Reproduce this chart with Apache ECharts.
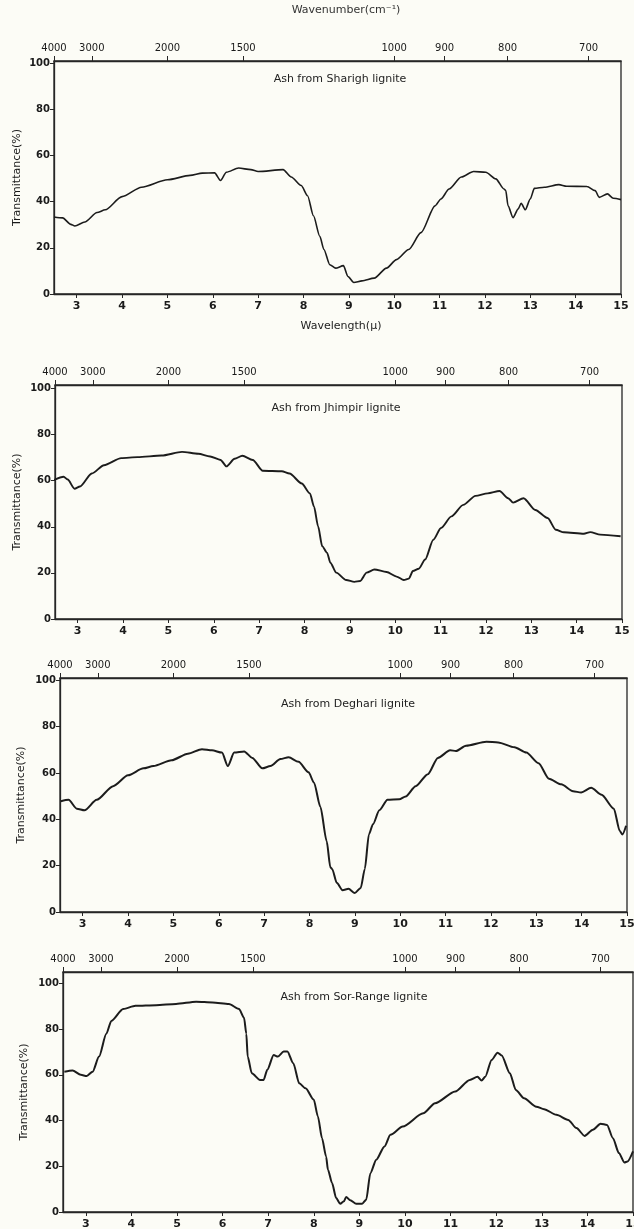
<!DOCTYPE html>
<html>
<head>
<meta charset="utf-8">
<script src="https://cdn.jsdelivr.net/npm/echarts@6/dist/echarts.min.js"></script>
<style>
html,body{margin:0;padding:0;background:#fcfcf6;}
#chart{width:634px;height:1229px;}
</style>
</head>
<body>
<div id="chart"></div>
<script>
// ---- data (wavelength in micrometres, transmittance in %) ----
const wavelengthTicks = [3,4,5,6,7,8,9,10,11,12,13,14,15];
const wavenumberTicks = [4000,3000,2000,1500,1000,900,800,700];
const yTicks = [0,20,40,60,80,100];
const panelTitles = ["Ash from Sharigh lignite","Ash from Jhimpir lignite","Ash from Deghari lignite","Ash from Sor-Range lignite"];

const sharighX = [2.5,2.69,2.87,2.96,3.18,3.45,3.63,4.0,4.43,5.0,5.5,5.77,6.04,6.17,6.3,6.57,6.84,7.0,7.55,7.73,7.95,8.09,8.22,8.36,8.45,8.58,8.71,8.88,8.98,9.11,9.29,9.56,9.83,10.05,10.32,10.59,10.9,11.03,11.21,11.48,11.75,12.02,12.24,12.42,12.46,12.51,12.62,12.73,12.8,12.89,13.0,13.09,13.31,13.63,13.8,14.25,14.43,14.52,14.7,14.83,15.0];
const sharighT = [33.4,33,30.2,29.5,31.2,35.3,36.5,42.2,46.3,49.5,51.4,52.4,52.5,49.2,52.8,54.6,53.9,53.1,53.9,50.7,47,42.6,33.9,25,19.3,12.7,11.2,12.3,7.6,5,5.7,6.9,11.2,14.9,19.3,26.6,38.2,41.2,45.5,50.7,53.1,52.8,49.9,45.5,44.8,38.2,33.1,36.8,39.3,36.5,41.2,45.8,46.3,47.4,46.7,46.6,44.8,41.9,43.4,41.5,40.9];

const jhimpirX = [2.48,2.69,2.78,2.93,3.05,3.31,3.58,3.96,4.32,4.85,5.3,5.66,5.92,6.15,6.28,6.46,6.63,6.86,7.08,7.5,7.67,7.94,8.12,8.21,8.3,8.39,8.5,8.57,8.7,8.92,9.1,9.23,9.37,9.54,9.81,10.03,10.19,10.3,10.39,10.52,10.66,10.84,11.01,11.24,11.5,11.77,12.04,12.3,12.49,12.6,12.83,13.09,13.36,13.54,13.72,14.16,14.3,14.52,14.97];
const jhimpirT = [60.3,61.7,60.5,56.5,57.5,63.1,66.7,69.8,70.2,70.9,72.5,71.7,70.5,69,66.2,69.5,70.8,69,64.3,64.1,63.1,58.8,54.5,48.8,40.2,31.6,28.7,24.4,20.1,16.9,16.1,16.5,20.1,21.5,20.4,18.4,16.9,17.5,20.8,21.8,25.8,34.4,39.5,44.5,49.5,53.4,54.5,55.5,52.4,50.5,52.4,47.3,43.8,38.7,37.6,37,37.7,36.6,35.9];

const deghariX = [2.52,2.69,2.87,3.04,3.31,3.67,4.0,4.34,4.56,4.96,5.32,5.63,5.85,6.07,6.2,6.34,6.56,6.74,6.96,7.14,7.36,7.54,7.76,7.98,8.1,8.24,8.38,8.46,8.5,8.6,8.73,8.86,9.0,9.13,9.22,9.31,9.4,9.54,9.72,9.98,10.12,10.34,10.61,10.83,11.1,11.23,11.45,11.9,12.16,12.52,12.78,13.05,13.28,13.55,13.81,13.99,14.21,14.44,14.71,14.84,14.9,14.98];
const deghariT = [47.8,48.4,44.6,43.9,48.4,54.3,59,62,63,65.5,68.3,70.3,69.8,68.8,63,68.8,69.3,66.5,62,63,66,66.8,64.8,60.3,55.8,45.4,30.5,19.3,18.6,12.6,9.4,10,8.2,10.4,18.6,33.5,37.9,43.9,48.4,48.7,49.9,54.3,59.5,66.5,69.8,69.5,71.8,73.5,73.2,71.1,68.8,64.2,57.5,55.1,52.1,51.6,53.6,50.6,44.6,35,33.5,37.2];

const sorRangeX = [2.53,2.71,2.89,3.02,3.15,3.29,3.45,3.56,3.82,4.09,4.54,4.98,5.42,5.78,6.14,6.36,6.47,6.52,6.55,6.64,6.82,6.9,6.98,7.12,7.21,7.34,7.42,7.55,7.68,7.82,8.0,8.09,8.18,8.27,8.31,8.4,8.49,8.58,8.66,8.71,8.8,8.93,9.06,9.15,9.24,9.37,9.55,9.68,9.95,10.4,10.66,11.1,11.42,11.59,11.68,11.76,11.9,12.03,12.12,12.3,12.43,12.61,12.88,13.05,13.32,13.58,13.76,13.94,14.12,14.29,14.43,14.56,14.69,14.81,14.88,15.0];
const sorRangeT = [61.4,61.9,60,59.5,61.4,68,78,83.6,88.8,90.2,90.5,91,92,91.7,91,88.8,85,78,68,60.7,57.8,57.8,62.2,68.7,68,70.2,70.2,65.1,56.3,54.1,49.1,41.8,32.3,24.3,18.5,12.7,6.1,3.6,4.7,6.6,5.1,3.6,3.6,5.4,17,22.9,28.7,33.8,37.4,43.2,47.6,52.7,57.8,59.2,57.5,59.2,66.5,69.7,68.5,60.7,53.4,49.8,46.1,45,42.5,40.3,36.7,33.3,36,38.6,38.1,32.3,25.8,21.7,22.1,26.5];

// ---- layout ----
const panels = [
  {x: sharighX, t: sharighT, grid:{left:54,right:13,top:61,height:233}, ymax:101, lw:1.6, nameGap:31, title:[340,74]},
  {x: jhimpirX, t: jhimpirT, grid:{left:55,right:12,top:385,height:234}, ymax:101.5, lw:1.9, nameGap:32, title:[336,403]},
  {x: deghariX, t: deghariT, grid:{left:60,right:7,top:678,height:234}, ymax:101, lw:2, nameGap:33, title:[348,699]},
  {x: sorRangeX, t: sorRangeT, grid:{left:63,right:1,top:972,height:240}, ymax:105, lw:2, nameGap:33, title:[354,992]}
];

const ink = '#262626';
const grids=[], xAxes=[], yAxes=[], series=[], graphics=[];
panels.forEach((p,i)=>{
  grids.push(Object.assign({show:true, borderColor:ink, borderWidth:1.3, backgroundColor:'transparent', containLabel:false, outerBoundsMode:'none'}, p.grid));
  xAxes.push({
    type:'value', gridIndex:i, position:'bottom', min:2.5, max:15,
    axisLine:{show:true, lineStyle:{color:ink, width:1.3}},
    axisTick:{show:true, customValues:wavelengthTicks, length:4, lineStyle:{color:ink}},
    axisLabel:{customValues:wavelengthTicks, color:'#1a1a1a', fontSize:11, fontWeight:'bold', fontFamily:'DejaVu Sans', margin:7},
    splitLine:{show:false}
  });
  xAxes.push({
    type:'value', gridIndex:i, position:'top', min:2.5, max:15,
    axisLine:{show:true, lineStyle:{color:ink, width:1.3}},
    axisTick:{show:true, customValues:wavenumberTicks.map(w=>10000/w), length:5, lineStyle:{color:ink}},
    axisLabel:{customValues:wavenumberTicks.map(w=>10000/w), formatter:v=>String(Math.round(10000/v)), color:'#1a1a1a', fontSize:10, fontFamily:'DejaVu Sans', margin:8},
    splitLine:{show:false}
  });
  yAxes.push({
    type:'value', gridIndex:i, min:0, max:p.ymax,
    name:'Transmittance(%)', nameLocation:'middle', nameGap:p.nameGap, nameRotate:90, nameMoveOverlap:false,
    nameTextStyle:{color:'#1a1a1a', fontSize:11, fontFamily:'DejaVu Sans'},
    axisLine:{show:true, lineStyle:{color:ink, width:1.3}},
    axisTick:{show:true, customValues:yTicks, length:4, lineStyle:{color:ink}},
    axisLabel:{customValues:yTicks, color:'#1a1a1a', fontSize:10, fontWeight:'bold', fontFamily:'DejaVu Sans', margin:4},
    splitLine:{show:false}
  });
  series.push({
    type:'line', xAxisIndex:i*2, yAxisIndex:i, showSymbol:false, symbol:'none',
    smooth:0.25, smoothMonotone:'x',
    lineStyle:{color:'#1c1c1c', width:p.lw},
    data:p.x.map((v,k)=>[v,p.t[k]]), animation:false
  });
  graphics.push({type:'text', x:p.title[0], y:p.title[1], style:{text:panelTitles[i], textAlign:'center', textVerticalAlign:'top', fill:'#222', font:'11px "DejaVu Sans"'}});
});
graphics.push({type:'text', x:346, y:5, style:{text:'Wavenumber(cm\u207B\u00B9)', textAlign:'center', textVerticalAlign:'top', fill:'#333', font:'11px "DejaVu Sans"'}});
graphics.push({type:'text', x:341, y:321, style:{text:'Wavelength(\u03BC)', textAlign:'center', textVerticalAlign:'top', fill:'#222', font:'11px "DejaVu Sans"'}});

const chart = echarts.init(document.getElementById('chart'), null, {renderer:'canvas'});
chart.setOption({
  backgroundColor:'#fcfcf6',
  animation:false,
  grid:grids, xAxis:xAxes, yAxis:yAxes, series:series, graphic:graphics
});
</script>
</body>
</html>
